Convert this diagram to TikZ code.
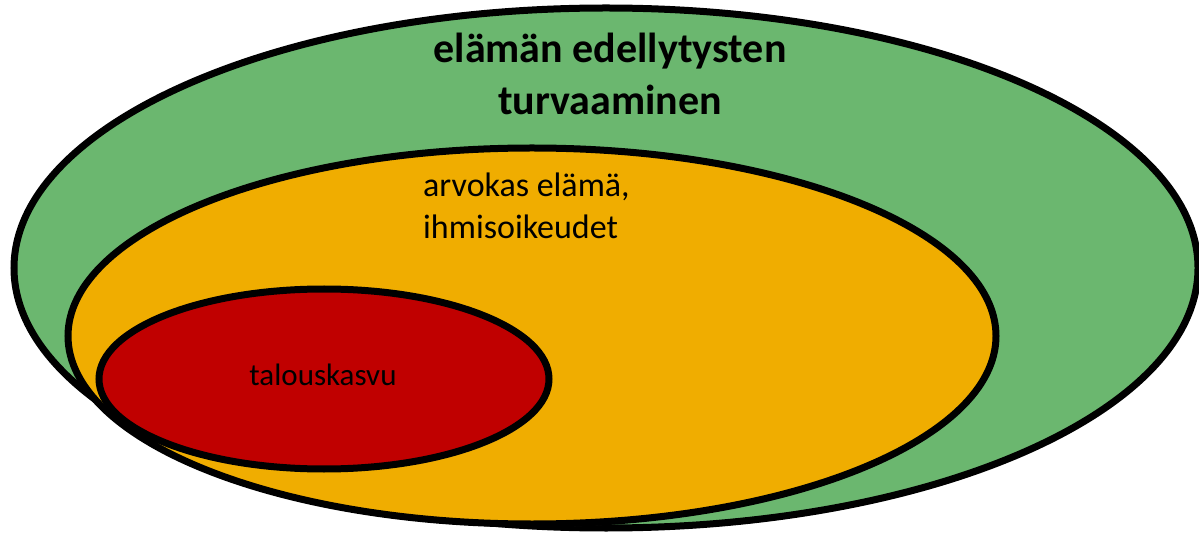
\documentclass[tikz,border=0pt]{standalone}
\usepackage{fontspec}
\setmainfont{Carlito}
\usetikzlibrary{shadows}
\definecolor{gfill}{HTML}{6BB76F}
\definecolor{ofill}{HTML}{F0AD00}
\definecolor{rfill}{HTML}{C00000}
\tikzset{
  ring/.style={draw=black, line width=7pt, drop shadow={shadow xshift=2pt, shadow yshift=-3pt, opacity=0.25}},
  lbl/.style={inner sep=0pt, text=black},
  gtxt/.style={lbl, anchor=base, font=\fontsize{42}{50}\selectfont\bfseries},
  otxt/.style={lbl, anchor=base west, font=\fontsize{34}{40}\selectfont},
  rtxt/.style={lbl, anchor=base, font=\fontsize{31}{36}\selectfont}
}
\begin{document}
\begin{tikzpicture}[x=1pt,y=-1pt]
\useasboundingbox (0,0) rectangle (1199,534);
\path[ring, fill=gfill] (606,268) ellipse [x radius=592, y radius=260];
\path[ring, fill=ofill] (532,336) ellipse [x radius=464, y radius=188];
\path[ring, fill=rfill] (324,379) ellipse [x radius=225, y radius=90];
\node[gtxt] (g1) at (610,63) {elämän edellytysten};
\node[gtxt] (g2) at (610,115) {turvaaminen};
\node[otxt] (o1) at (423,197) {arvokas elämä,};
\node[otxt] (o2) at (423,239) {ihmisoikeudet};
\node[rtxt] (r) at (323,385) {talouskasvu};
\end{tikzpicture}
\end{document}
